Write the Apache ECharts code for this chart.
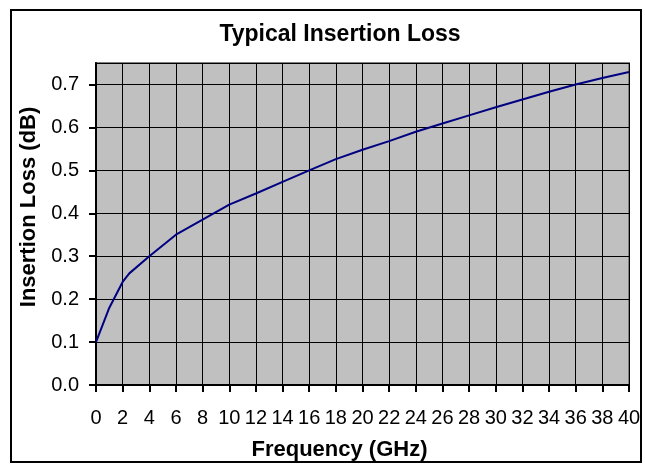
<!DOCTYPE html>
<html lang="en">

<head>
    <meta charset="UTF-8">
    <title>Typical Insertion Loss</title>
    <script src="https://cdn.jsdelivr.net/npm/echarts@6/dist/echarts.min.js"></script>
    <style>
        html, body { margin: 0; padding: 0; background: #fff; }
        #chart { width: 645px; height: 470px; }
    </style>
</head>

<body>
    <div id="chart"></div>
</body>
<script>
    // frequency points (GHz) and insertion loss (dB)
    var freqGHz = [0, 1, 2, 2.5, 4, 6, 8, 10, 12, 14, 16, 18, 20, 22, 24, 26, 28, 30, 32, 34, 36, 38, 40];
    var lossDb = [0.10, 0.18, 0.24, 0.26, 0.30, 0.35, 0.385, 0.42, 0.446, 0.473, 0.50, 0.526, 0.548, 0.568,
        0.59, 0.609, 0.628, 0.647, 0.665, 0.683, 0.70, 0.715, 0.729];

    var font = 'Liberation Sans, Arial, sans-serif';
    var myChart = echarts.init(document.getElementById('chart'));

    var option = {
        backgroundColor: '#ffffff',
        animation: false,
        title: {
            text: 'Typical Insertion Loss',
            left: 335,
            textAlign: 'center',
            top: 18,
            textStyle: { fontFamily: font, fontSize: 23, fontWeight: 'bold', color: '#000' }
        },
        graphic: [{
            type: 'rect',
            shape: { x: 11, y: 10, width: 630, height: 452 },
            style: { fill: 'none', stroke: '#000', lineWidth: 2 },
            silent: true
        }],
        grid: {
            left: 96, right: 16, top: 63, bottom: 85,
            show: true,
            backgroundColor: '#C0C0C0',
            borderColor: '#808080',
            borderWidth: 2
        },
        xAxis: {
            type: 'value',
            min: 0, max: 40, interval: 2,
            name: 'Frequency (GHz)',
            nameLocation: 'middle',
            nameGap: 54,
            nameTextStyle: {
                fontFamily: font, fontSize: 22, fontWeight: 'bold', color: '#000',
                padding: [0, 46, 0, 0]
            },
            axisLine: { show: true, lineStyle: { color: '#000', width: 2 } },
            axisTick: { show: true, length: 7, lineStyle: { color: '#000', width: 2 } },
            axisLabel: { fontFamily: font, fontSize: 20, color: '#000', margin: 23 },
            splitLine: { show: true, lineStyle: { color: '#000', width: 1 } }
        },
        yAxis: {
            type: 'value',
            min: 0, max: 0.75, interval: 0.1,
            name: 'Insertion Loss (dB)',
            nameLocation: 'middle',
            nameGap: 50,
            nameTextStyle: {
                fontFamily: font, fontSize: 22, fontWeight: 'bold', color: '#000',
                padding: [0, 0, 0, 34]
            },
            axisLine: { show: true, lineStyle: { color: '#000', width: 2 } },
            axisTick: { show: true, length: 7, lineStyle: { color: '#000', width: 2 } },
            axisLabel: {
                fontFamily: font, fontSize: 20, color: '#000', margin: 17,
                showMaxLabel: false,
                formatter: function (v) { return v.toFixed(1); }
            },
            splitLine: { show: true, lineStyle: { color: '#000', width: 1 } }
        },
        series: [{
            type: 'line',
            data: freqGHz.map(function (f, i) { return [f, lossDb[i]]; }),
            showSymbol: false,
            lineStyle: { color: '#000080', width: 2 },
            itemStyle: { color: '#000080' }
        }]
    };
    myChart.setOption(option);
</script>

</html>
